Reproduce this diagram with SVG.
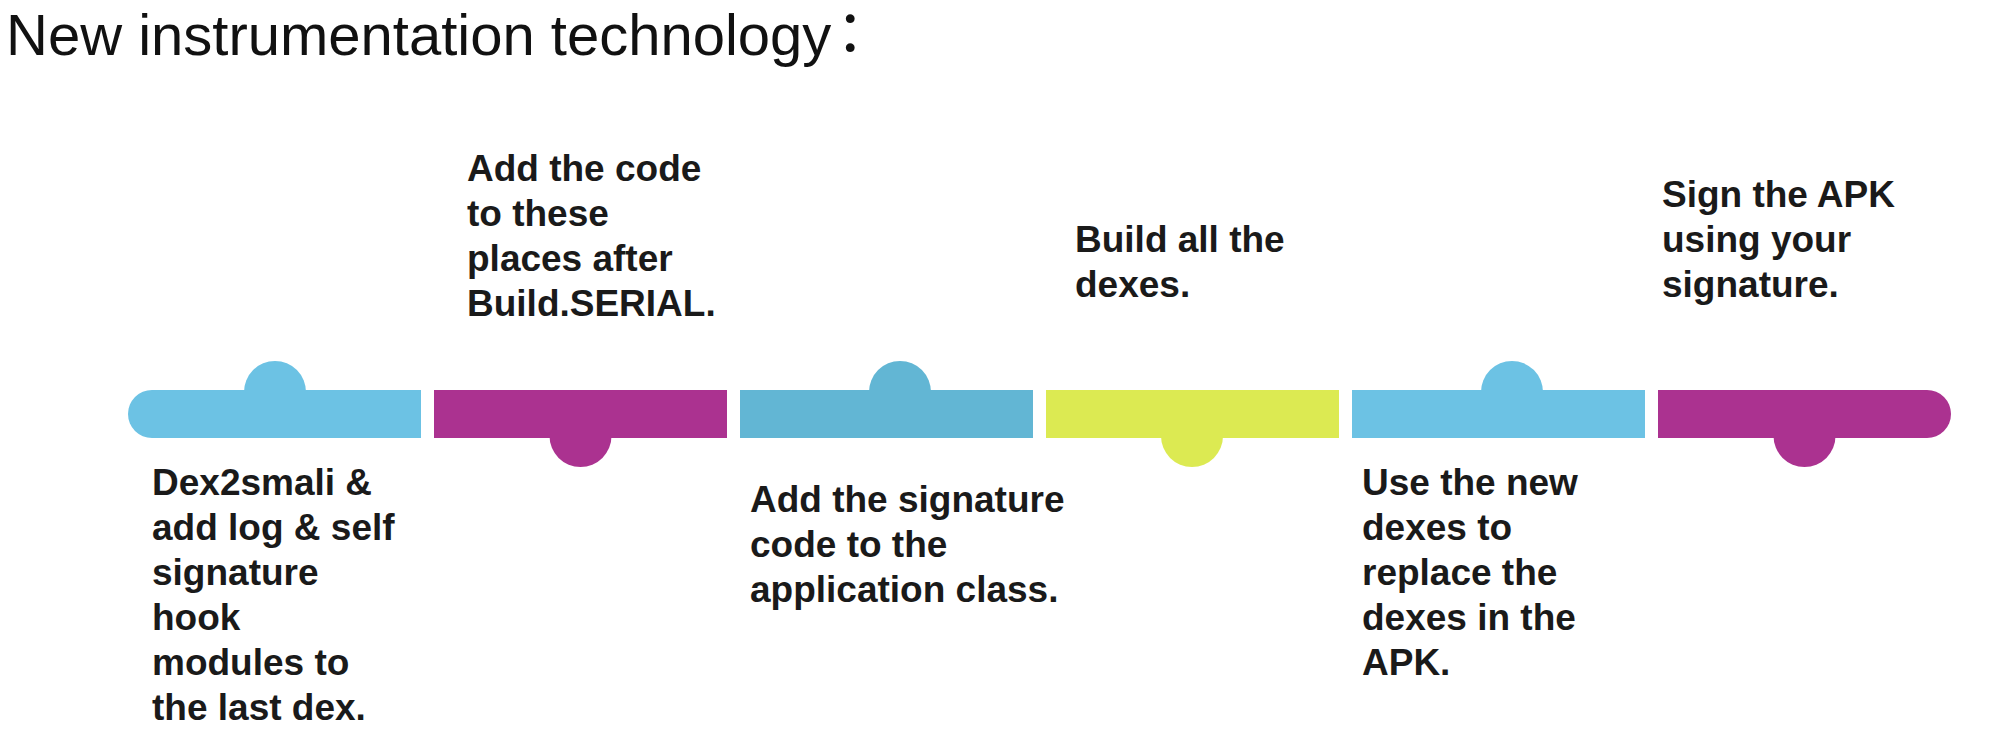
<svg xmlns="http://www.w3.org/2000/svg" width="2016" height="734" viewBox="0 0 2016 734">
<style>
.title{font-family:"Liberation Sans",Arial,"Noto Sans CJK JP",sans-serif;font-size:58px;fill:#111111}
.lbl{font-family:"Liberation Sans",Arial,sans-serif;font-weight:bold;font-size:37px;fill:#1a1a1a}
.blue{fill:#6CC2E4}
.purple{fill:#AB3290}
.teal{fill:#62B6D4}
.lime{fill:#DCEA52}
</style>
<rect width="2016" height="734" fill="#ffffff"/>
<text class="title" x="6" y="55">New instrumentation technology<tspan dx="-10" font-family="'Noto Sans CJK JP',sans-serif">：</tspan></text>
<g id="connectors"></g>
<g id="step1">
  <circle class="blue" cx="275" cy="392" r="31"/>
  <path class="blue" d="M421 390 H152 A24 24 0 0 0 152 438 H421 Z"/>
  <text class="lbl"><tspan x="152" y="495">Dex2smali &amp;</tspan><tspan x="152" y="540">add log &amp; self</tspan><tspan x="152" y="585">signature</tspan><tspan x="152" y="630">hook</tspan><tspan x="152" y="675">modules to</tspan><tspan x="152" y="720">the last dex.</tspan></text>
</g>
<g id="step2">
  <circle class="purple" cx="580.5" cy="436" r="31"/>
  <rect class="purple" x="434" y="390" width="293" height="48"/>
  <text class="lbl"><tspan x="467" y="181">Add the code</tspan><tspan x="467" y="226">to these</tspan><tspan x="467" y="271">places after</tspan><tspan x="467" y="316">Build.SERIAL.</tspan></text>
</g>
<g id="step3">
  <circle class="teal" cx="900" cy="392" r="31"/>
  <rect class="teal" x="740" y="390" width="293" height="48"/>
  <text class="lbl"><tspan x="750" y="512">Add the signature</tspan><tspan x="750" y="557">code to the</tspan><tspan x="750" y="602">application class.</tspan></text>
</g>
<g id="step4">
  <circle class="lime" cx="1192" cy="436" r="31"/>
  <rect class="lime" x="1046" y="390" width="293" height="48"/>
  <text class="lbl"><tspan x="1075" y="252">Build all the</tspan><tspan x="1075" y="297">dexes.</tspan></text>
</g>
<g id="step5">
  <circle class="blue" cx="1512" cy="392" r="31"/>
  <rect class="blue" x="1352" y="390" width="293" height="48"/>
  <text class="lbl"><tspan x="1362" y="495">Use the new</tspan><tspan x="1362" y="540">dexes to</tspan><tspan x="1362" y="585">replace the</tspan><tspan x="1362" y="630">dexes in the</tspan><tspan x="1362" y="675">APK.</tspan></text>
</g>
<g id="step6">
  <circle class="purple" cx="1804.5" cy="436" r="31"/>
  <path class="purple" d="M1658 390 H1927 A24 24 0 0 1 1927 438 H1658 Z"/>
  <text class="lbl"><tspan x="1662" y="207">Sign the APK</tspan><tspan x="1662" y="252">using your</tspan><tspan x="1662" y="297">signature.</tspan></text>
</g>
</svg>
